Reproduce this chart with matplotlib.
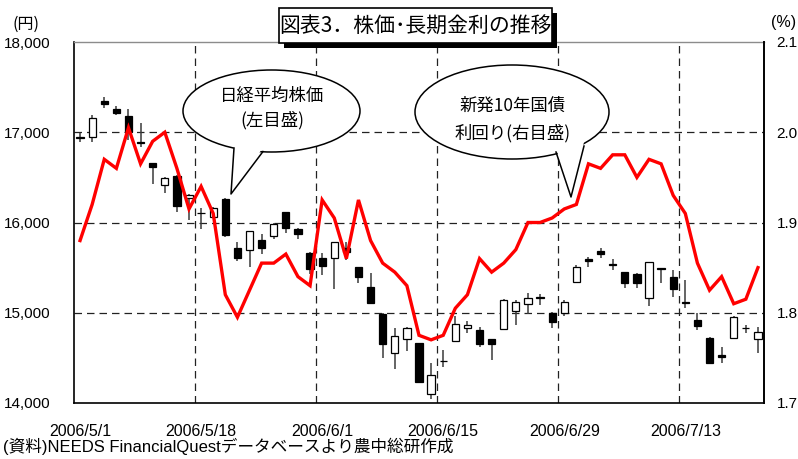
import matplotlib
matplotlib.use("Agg")
import matplotlib.pyplot as plt
from matplotlib.patches import Rectangle, Ellipse, Polygon

# Trading days (Tokyo), 2006/5/1 - 2006/7/24
dates = [
    "2006/5/1", "2006/5/2", "2006/5/8", "2006/5/9", "2006/5/10", "2006/5/11", "2006/5/12",
    "2006/5/15", "2006/5/16", "2006/5/17", "2006/5/18", "2006/5/19", "2006/5/22", "2006/5/23",
    "2006/5/24", "2006/5/25", "2006/5/26", "2006/5/29", "2006/5/30", "2006/5/31",
    "2006/6/1", "2006/6/2", "2006/6/5", "2006/6/6", "2006/6/7", "2006/6/8", "2006/6/9",
    "2006/6/12", "2006/6/13", "2006/6/14", "2006/6/15", "2006/6/16", "2006/6/19", "2006/6/20",
    "2006/6/21", "2006/6/22", "2006/6/23", "2006/6/26", "2006/6/27", "2006/6/28", "2006/6/29",
    "2006/6/30", "2006/7/3", "2006/7/4", "2006/7/5", "2006/7/6", "2006/7/7", "2006/7/10",
    "2006/7/11", "2006/7/12", "2006/7/13", "2006/7/14", "2006/7/18", "2006/7/19", "2006/7/20",
    "2006/7/21", "2006/7/24",
]

# Nikkei 225 (yen)
opens = [16950, 16951, 17346, 17261, 17180, 16895, 16656, 16416, 16515, 16268,
         16110, 16058, 16257, 15714, 15695, 15806, 15850, 16113, 15925, 15665,
         15610, 15610, 15714, 15504, 15282, 14986, 14551, 14706, 14662, 14097,
         14470, 14687, 14828, 14809, 14709, 14820, 15019, 15094, 15170, 15001,
         15001, 15344, 15593, 15684, 15540, 15455, 15426, 15160, 15496, 15400,
         15123, 14920, 14717, 14530, 14724, 14830, 14709]
highs = [16995, 17191, 17387, 17291, 17254, 17099, 16660, 16500, 16526, 16316,
         16157, 16170, 16268, 15787, 15909, 15869, 15991, 16113, 15936, 15676,
         15659, 15787, 15787, 15504, 15437, 14993, 14828, 14846, 14662, 14447,
         14587, 14964, 14912, 14839, 14709, 15149, 15141, 15216, 15205, 15012,
         15141, 15529, 15614, 15714, 15593, 15455, 15437, 15566, 15500, 15474,
         15363, 14994, 14735, 14624, 14964, 14864, 14846]
lows = [16890, 16895, 17265, 17191, 16914, 16840, 16423, 16324, 16120, 16028,
        15925, 16050, 15843, 15574, 15504, 15651, 15814, 15887, 15814, 15430,
        15418, 15260, 15590, 15333, 15094, 14495, 14374, 14580, 14218, 14041,
        14402, 14679, 14779, 14617, 14477, 14809, 14864, 14986, 15086, 14828,
        14964, 15326, 15510, 15610, 15474, 15278, 15278, 15075, 15333, 15178,
        15049, 14809, 14432, 14447, 14713, 14779, 14551]
closes = [16935, 17155, 17310, 17210, 17006, 16878, 16618, 16497, 16183, 16305,
          16100, 16157, 15862, 15603, 15909, 15714, 15980, 15936, 15869, 15481,
          15518, 15787, 15677, 15400, 15105, 14654, 14742, 14828, 14230, 14310,
          14460, 14875, 14864, 14654, 14654, 15141, 15123, 15160, 15165, 14894,
          15123, 15510, 15577, 15651, 15532, 15333, 15333, 15559, 15490, 15260,
          15105, 14857, 14440, 14513, 14950, 14826, 14790]

# Newly issued 10-year JGB yield (%)
yields = [1.88, 1.92, 1.97, 1.96, 2.005, 1.965, 1.99, 2.00, 1.96, 1.915,
          1.94, 1.91, 1.82, 1.795, 1.825, 1.855, 1.855, 1.865, 1.84, 1.83,
          1.925, 1.905, 1.86, 1.925, 1.88, 1.855, 1.845, 1.83, 1.775, 1.77,
          1.775, 1.805, 1.82, 1.86, 1.845, 1.855, 1.87, 1.90, 1.90, 1.905,
          1.915, 1.92, 1.965, 1.96, 1.975, 1.975, 1.95, 1.97, 1.965, 1.93,
          1.91, 1.855, 1.825, 1.84, 1.81, 1.815, 1.85]

label_every = 10
yen_ticks = [14000, 15000, 16000, 17000, 18000]
pct_ticks = [1.7, 1.8, 1.9, 2.0, 2.1]

LATIN = ["Liberation Sans", "Noto Sans CJK JP", "DejaVu Sans"]
CJK = ["Noto Sans CJK JP", "DejaVu Sans"]
plt.rcParams["font.family"] = LATIN

W, H = 798, 459
fig = plt.figure(figsize=(W / 100, H / 100), dpi=100)
fig.patch.set_facecolor("white")

L, R, T, B = 74, 764, 42, 403
ax = fig.add_axes([L / W, 1 - B / H, (R - L) / W, (B - T) / H])
n = len(dates)
x = list(range(n))

ax.set_xlim(-0.5, n - 0.5)
ax.set_ylim(yen_ticks[0], yen_ticks[-1])

grid_kw = dict(color="#222222", lw=0.9, ls=(0, (6, 4)), zorder=1)
for v in yen_ticks[1:-1]:
    ax.axhline(v, **grid_kw)
for i in range(label_every, n, label_every):
    ax.axvline(i - 0.5, **grid_kw)

# candlesticks
ax.vlines(x, lows, highs, color="#3a3a3a", lw=1.1, zorder=2)
body_bottom = [min(o, c) for o, c in zip(opens, closes)]
body_height = [abs(c - o) for o, c in zip(opens, closes)]
face = ["white" if c >= o else "black" for o, c in zip(opens, closes)]
ax.bar(x, body_height, bottom=body_bottom, width=0.6, color=face,
       edgecolor="black", lw=0.9, zorder=3)

ax.set_yticks(yen_ticks)
ax.set_yticklabels([f"{v:,}" for v in yen_ticks])
ax.set_xticks(x[::label_every])
ax.set_xticklabels(dates[::label_every])
ax.tick_params(axis="y", length=0, pad=17, labelsize=11)
ax.tick_params(axis="x", length=0, pad=15, labelsize=11.5)
for s in ["left", "bottom"]:
    ax.spines[s].set_color("black")
    ax.spines[s].set_linewidth(1.2)
ax.spines["top"].set_color("#8c8c8c")
ax.spines["top"].set_linewidth(1.0)
ax.spines["right"].set_visible(False)

ax2 = ax.twinx()
ax2.set_ylim(pct_ticks[0], pct_ticks[-1])
ax2.plot(x, yields, color="#ff0000", lw=2.4, solid_joinstyle="miter", zorder=5)
ax2.set_yticks(pct_ticks)
ax2.set_yticklabels([f"{v:.1f}" for v in pct_ticks])
ax2.tick_params(axis="y", length=0, pad=9, labelsize=11)
for s in ["left", "top", "bottom"]:
    ax2.spines[s].set_visible(False)
ax2.spines["right"].set_color("black")
ax2.spines["right"].set_linewidth(1.4)

# overlay in pixel coordinates for title, callouts and notes
ov = fig.add_axes([0, 0, 1, 1])
ov.set_xlim(0, W)
ov.set_ylim(H, 0)
ov.axis("off")
ov.set_zorder(10)
ov.patch.set_alpha(0)

ov.text(26, 24, "(円)", ha="center", va="center", fontsize=11.5, family=CJK)
ov.text(784, 23, "(%)", ha="center", va="center", fontsize=11.5, family=LATIN)

# title box with drop shadow
ov.add_patch(Rectangle((284, 13), 273, 35, facecolor="black", edgecolor="none", zorder=1))
ov.add_patch(Rectangle((279, 8), 273, 35, facecolor="white", edgecolor="black", lw=1.2, zorder=2))
ov.text(415.5, 26, "図表3．株価･長期金利の推移", ha="center", va="center",
        fontsize=15, family=CJK, zorder=3)


def callout(cx, cy, w, h, tail, lines, ys):
    ov.add_patch(Ellipse((cx, cy), w, h, facecolor="white", edgecolor="black", lw=1.1, zorder=2))
    (x1, y1), (tx, ty), (x2, y2) = tail
    ov.add_patch(Polygon([(x1, y1 - 4), (tx, ty), (x2, y2 - 4)], closed=True,
                         facecolor="white", edgecolor="none", zorder=3))
    ov.plot([x1, tx, x2], [y1, ty, y2], color="black", lw=1.1, zorder=4)
    for s, yy in zip(lines, ys):
        ov.text(cx + 1, yy, s, ha="center", va="center", fontsize=12.5, family=CJK, zorder=5)


callout(271.5, 111, 177, 82, [(234, 148), (231, 194), (263, 151.5)],
        ["日経平均株価", "(左目盛)"], [95.5, 120.5])
callout(512, 112, 194, 94, [(556, 152), (571, 197), (584, 146)],
        ["新発10年国債", "利回り(右目盛)"], [106, 133])

ov.text(3, 446, "(資料)NEEDS FinancialQuestデータベースより農中総研作成",
        ha="left", va="center", fontsize=12, family=LATIN)

fig.savefig("out.png", dpi=100, facecolor="white")
